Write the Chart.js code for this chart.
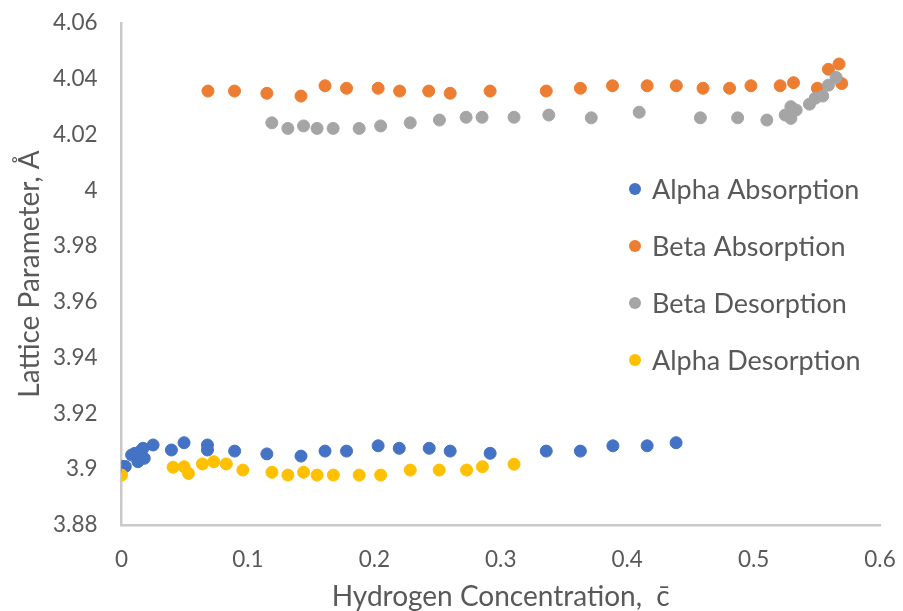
<!DOCTYPE html>
<html>
<head>
<meta charset="utf-8">
<script src="https://cdn.jsdelivr.net/npm/chart.js@4"></script>
<style>
  html, body { margin: 0; padding: 0; background: #fff; }
  #wrap { width: 903px; height: 611px; }
</style>
</head>
<body>
<div id="wrap"><canvas id="lattice-chart" width="903" height="611"></canvas></div>
<script>
// Series data (x = hydrogen concentration, y = lattice parameter)
const alphaAbsX = [0, 0.003, 0.008, 0.0105, 0.013, 0.0145, 0.017, 0.018, 0.025, 0.0395, 0.0495, 0.068, 0.068, 0.0895, 0.115, 0.142, 0.161, 0.178, 0.203, 0.2197, 0.2434, 0.26, 0.2916, 0.336, 0.363, 0.3887, 0.4158, 0.4387];
const alphaAbsY = [3.901, 3.901, 3.9051, 3.9057, 3.9027, 3.9063, 3.9075, 3.9039, 3.9087, 3.9069, 3.9095, 3.9087, 3.9069, 3.9065, 3.9055, 3.9047, 3.9065, 3.9065, 3.9084, 3.9075, 3.9075, 3.9065, 3.9057, 3.9065, 3.9065, 3.9084, 3.9084, 3.9095];

const betaAbsX = [0.0684, 0.0894, 0.115, 0.142, 0.161, 0.178, 0.203, 0.22, 0.243, 0.26, 0.2916, 0.336, 0.363, 0.3884, 0.4158, 0.4389, 0.46, 0.481, 0.4979, 0.521, 0.5316, 0.5505, 0.5592, 0.5676, 0.5697];
const betaAbsY = [4.0356, 4.0356, 4.0348, 4.0338, 4.0375, 4.0366, 4.0366, 4.0356, 4.0356, 4.0348, 4.0356, 4.0356, 4.0366, 4.0375, 4.0375, 4.0375, 4.0366, 4.0366, 4.0375, 4.0375, 4.0386, 4.0366, 4.0434, 4.0453, 4.0383];

const betaDesX = [0.1189, 0.1316, 0.144, 0.1547, 0.1674, 0.188, 0.205, 0.2284, 0.2515, 0.2726, 0.2852, 0.3105, 0.338, 0.3716, 0.4095, 0.4579, 0.4874, 0.5105, 0.525, 0.5295, 0.5295, 0.5337, 0.5442, 0.5487, 0.5547, 0.5592, 0.5653];
const betaDesY = [4.0242, 4.0222, 4.0231, 4.0222, 4.0222, 4.0222, 4.0231, 4.0242, 4.0252, 4.0262, 4.0262, 4.0262, 4.027, 4.026, 4.028, 4.026, 4.026, 4.0252, 4.027, 4.03, 4.0258, 4.0288, 4.0309, 4.033, 4.0338, 4.0377, 4.0405];

const alphaDesX = [0, 0.0408, 0.0495, 0.053, 0.064, 0.073, 0.0829, 0.096, 0.119, 0.1316, 0.144, 0.1547, 0.1676, 0.188, 0.205, 0.2284, 0.2513, 0.273, 0.2855, 0.3105];
const alphaDesY = [3.8979, 3.9007, 3.9009, 3.8985, 3.9019, 3.9027, 3.9019, 3.8997, 3.8989, 3.8979, 3.8989, 3.8979, 3.8979, 3.8979, 3.8979, 3.8997, 3.8997, 3.8997, 3.9009, 3.9018];

const seriesNames = ['Alpha Absorption', 'Beta Absorption', 'Beta Desorption', 'Alpha Desorption'];
const seriesColors = ['#4472C4', '#ED7D31', '#A5A5A5', '#FFC000'];

const xTicks = [0, 0.1, 0.2, 0.3, 0.4, 0.5, 0.6];
const yTicks = [3.88, 3.9, 3.92, 3.94, 3.96, 3.98, 4, 4.02, 4.04, 4.06];

const FONT = 'Lato, "Open Sans", sans-serif';
const TEXT = '#595959';

function toPoints(xs, ys) {
    return xs.map((x, i) => ({ x: x, y: ys[i] }));
}

const seriesData = [
    toPoints(alphaAbsX, alphaAbsY),
    toPoints(betaAbsX, betaAbsY),
    toPoints(betaDesX, betaDesY),
    toPoints(alphaDesX, alphaDesY)
];

// Excel-style legend sitting inside the plot area
const insideLegend = {
    id: 'insideLegend',
    afterDraw(chart) {
        const ctx = chart.ctx;
        ctx.save();
        ctx.font = '27px ' + FONT;
        ctx.textBaseline = 'middle';
        seriesNames.forEach((name, i) => {
            const y = 189 + i * 57;
            ctx.beginPath();
            ctx.arc(635, y, 6, 0, Math.PI * 2);
            ctx.fillStyle = seriesColors[i];
            ctx.fill();
            ctx.fillStyle = TEXT;
            ctx.fillText(name, 652, y + 1);
        });
        ctx.restore();
    }
};

const ctx = document.getElementById('lattice-chart');
new Chart(ctx.getContext('2d'), {
    type: 'scatter',
    data: {
        datasets: seriesData.map((pts, i) => ({
            label: seriesNames[i],
            data: pts,
            backgroundColor: seriesColors[i],
            borderColor: seriesColors[i],
            borderWidth: 1,
            pointRadius: 6,
            order: seriesNames.length - i
        }))
    },
    options: {
        responsive: false,
        animation: false,
        layout: {
            padding: 0
        },
        plugins: {
            legend: { display: false },
            tooltip: { enabled: false }
        },
        scales: {
            x: {
                type: 'linear',
                min: 0,
                max: 0.6,
                afterBuildTicks: s => { s.ticks = xTicks.map(v => ({ value: v })); },
                afterFit: s => { s.height = 86; s.paddingRight = 23; },
                grid: { display: false, drawTicks: false, tickLength: 0 },
                border: { display: true, color: '#C9C9C9', width: 2.5 },
                ticks: {
                    padding: 21,
                    color: TEXT,
                    font: { family: FONT, size: 22.5 },
                    callback: v => String(+v.toFixed(2))
                },
                title: {
                    display: true,
                    text: 'Hydrogen Concentration,  c\u0304',
                    color: TEXT,
                    font: { family: FONT, size: 28 },
                    padding: { top: 0, bottom: -3 }
                }
            },
            y: {
                type: 'linear',
                min: 3.88,
                max: 4.06,
                afterBuildTicks: s => { s.ticks = yTicks.map(v => ({ value: v })); },
                afterFit: s => { s.width = 121.5; s.paddingTop = 23; },
                grid: { display: false, drawTicks: false, tickLength: 0 },
                border: { display: true, color: '#C9C9C9', width: 2.5 },
                ticks: {
                    padding: 24,
                    color: TEXT,
                    font: { family: FONT, size: 22.5 },
                    callback: v => String(+v.toFixed(2))
                },
                title: {
                    display: true,
                    text: 'Lattice Parameter, \u00C5',
                    color: TEXT,
                    font: { family: FONT, size: 28 },
                    padding: { top: 13, bottom: 0 }
                }
            }
        }
    },
    plugins: [insideLegend]
});
</script>
</body>
</html>
